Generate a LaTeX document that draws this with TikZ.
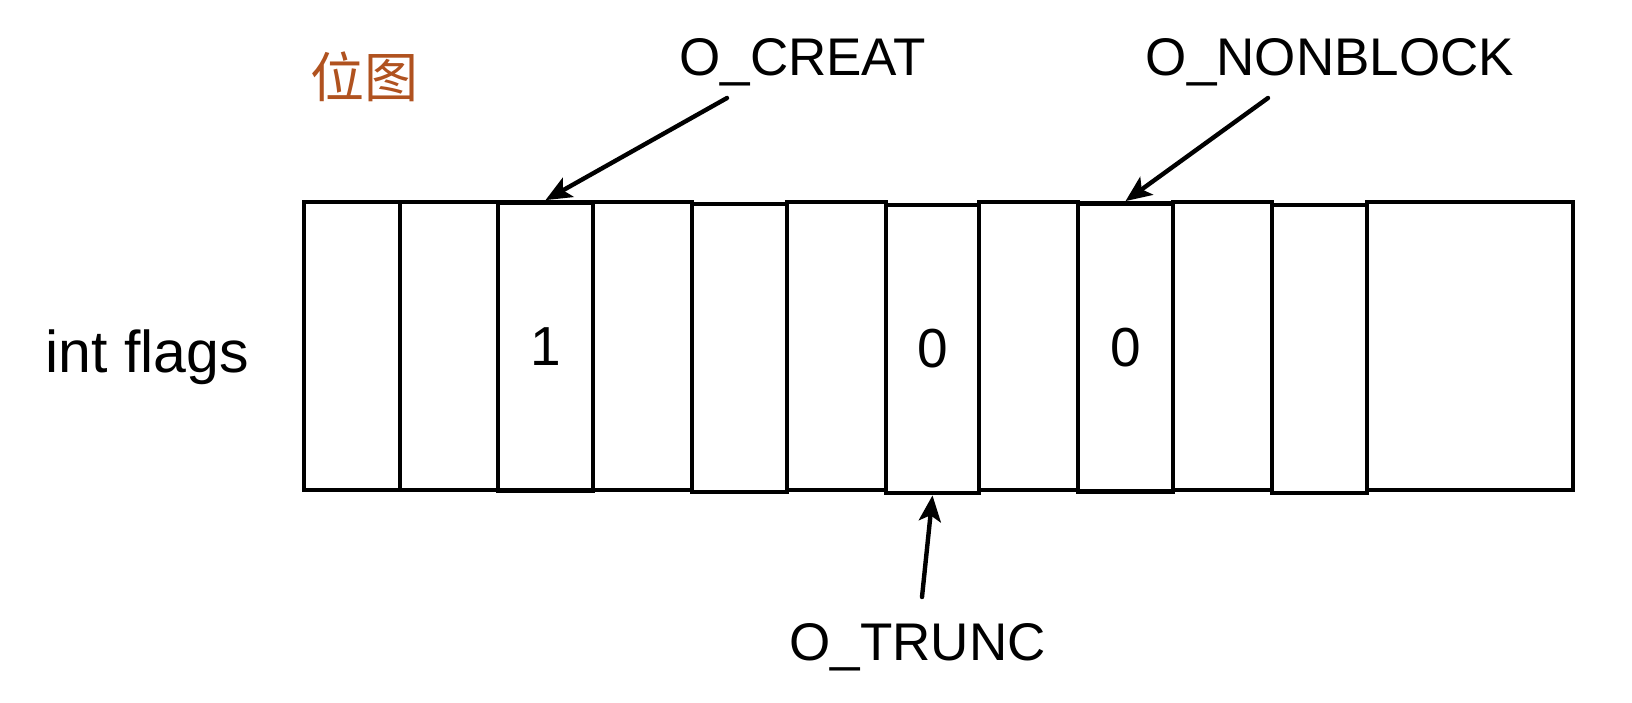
\documentclass[tikz,border=0pt]{standalone}
\usepackage{fontspec}
\setmainfont{Liberation Sans}
\newfontfamily\cjkfont{Noto Sans CJK SC}
\usepackage{tikz}
\usetikzlibrary{arrows.meta}
\definecolor{titlebrown}{HTML}{B0521F}

\begin{document}
\begin{tikzpicture}[x=0.5pt,y=-0.5pt,
  cell/.style={draw,line width=2.4pt,inner sep=0pt,minimum height=144pt,
               font=\fontsize{27.5}{32}\selectfont},
  lbl/.style={inner sep=0pt,anchor=base,font=\fontsize{26.5}{32}\selectfont},
  arr/.style={-{Stealth[length=13pt,width=11pt,inset=3pt]},line width=2.2pt,line cap=round}
]
  \useasboundingbox (0,0) rectangle (1632,702);

  % Title
  \node[inner sep=0pt,font=\cjkfont\fontsize{27}{32}\selectfont,text=titlebrown] (title) at (364,77) {位图};

  % Variable name
  \node[lbl,font=\fontsize{29.5}{32}\selectfont] (flags) at (147.5,372) {int flags};

  % Bit cells
  \node[cell,minimum width=48pt]   (c1)  at (352,346)    {};
  \node[cell,minimum width=49pt]   (c2)  at (449,346)    {};
  \node[cell,minimum width=47.5pt] (c3)  at (545.5,346.5) {1};
  \node[cell,minimum width=49.5pt] (c4)  at (642.5,346) {};
  \node[cell,minimum width=47.5pt] (c5)  at (739.5,348)  {};
  \node[cell,minimum width=49.5pt] (c6)  at (836.5,346)  {};
  \node[cell,minimum width=46.5pt] (c7)  at (932.5,349)  {0};
  \node[cell,minimum width=49.5pt] (c8)  at (1028.5,346) {};
  \node[cell,minimum width=47.5pt] (c9)  at (1125.5,347.5) {0};
  \node[cell,minimum width=49.5pt] (c10) at (1222.5,346) {};
  \node[cell,minimum width=47.5pt] (c11) at (1319.5,349) {};
  \node[cell,minimum width=103pt]  (c12) at (1470,346)   {};

  % Flag names
  \node[lbl] (creat)    at (802.5,75)  {O\_CREAT};
  \node[lbl] (nonblock) at (1330,75)   {O\_NONBLOCK};
  \node[lbl] (trunc)    at (917.5,660) {O\_TRUNC};

  % Arrows
  \coordinate (creattail)    at (727,98);
  \coordinate (nonblocktail) at (1268,98);
  \coordinate (trunctail)    at (922,597);
  \draw[arr] (creattail) -- (c3.north);
  \draw[arr] (nonblocktail) -- (c9.north);
  \draw[arr] (trunctail) -- (c7.south);
\end{tikzpicture}
\end{document}
